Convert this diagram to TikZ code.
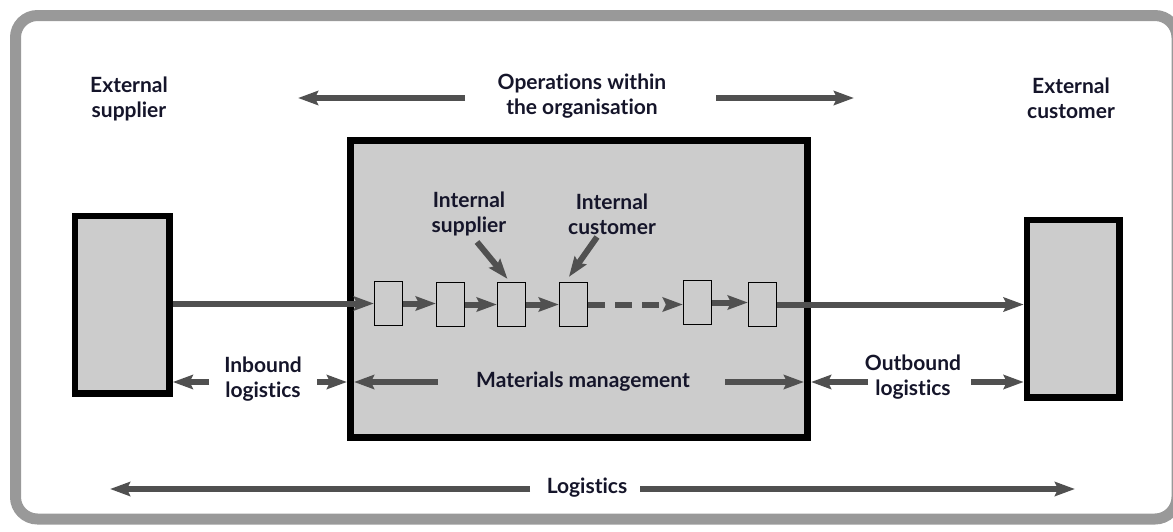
\documentclass[tikz,border=0pt]{standalone}
\usepackage{fontspec}
\setmainfont{Lato}[Ligatures=NoCommon]
\usetikzlibrary{arrows.meta,calc}
\definecolor{arrgray}{HTML}{505050}
\definecolor{boxgray}{HTML}{CCCCCC}
\definecolor{framegray}{HTML}{999999}
\definecolor{txt}{HTML}{15152A}
\begin{document}
\begin{tikzpicture}[x=1pt,y=-1pt,
  lbl/.style={font=\fontsize{21}{25}\selectfont\bfseries, text=txt, align=center, inner sep=0pt},
  bigbox/.style={draw=black, fill=boxgray, line width=6.5pt, inner sep=0pt},
  smallbox/.style={draw=black, fill=boxgray, line width=1.2pt, minimum width=28pt, minimum height=44pt, inner sep=0pt},
  arr/.style={draw=arrgray, line width=6pt, -{Stealth[length=20pt,width=14pt,inset=3pt]}},
]
\useasboundingbox (0,0) rectangle (1173,531);
\begin{scope}
\clip (0,0) rectangle (1173,531);
\draw[framegray, line width=11pt, rounded corners=22pt] (15.5,15.5) rectangle (1177,519);
\end{scope}

% big boxes
\node[bigbox, minimum width=94.5pt, minimum height=177.5pt] (sup) at (122.25,304.75) {};
\node[bigbox, line width=7pt, minimum width=457pt, minimum height=297.5pt] (main) at (579,288.75) {};
\node[bigbox, minimum width=92.5pt, minimum height=177.5pt] (cus) at (1073.25,308.75) {};

% small boxes
\node[smallbox] (b1) at (388.5,303.5) {};
\node[smallbox] (b2) at (450.5,304.5) {};
\node[smallbox] (b3) at (511.5,304.5) {};
\node[smallbox] (b4) at (573.5,304.5) {};
\node[smallbox] (b5) at (697.5,302.5) {};
\node[smallbox] (b6) at (762.5,304.5) {};

% labels
\node[lbl] (extsup) at (129,98.5) {External\\supplier};
\node[lbl] (extcus) at (1071,98.5) {External\\customer};
\node[lbl] (ops) at (582,96) {Operations within\\the organisation};
\node[lbl] (intsup) at (469,214) {Internal\\supplier};
\node[lbl] (intcus) at (612,214) {Internal\\customer};
\node[lbl] (inb) at (263,379.5) {Inbound\\logistics};
\node[lbl] (mm) at (583,382) {Materials management};
\node[lbl] (outb) at (913,377.5) {Outbound\\logistics};
\node[lbl] (logi) at (587,488) {Logistics};

% free ends
\coordinate (opsLt) at (465,98);
\coordinate (opsLh) at (298,98);
\coordinate (opsRt) at (716,98);
\coordinate (opsRh) at (854,98);
\coordinate (isT) at (477,242);
\coordinate (icT) at (597,237);
\coordinate (inLt) at (209,382);
\coordinate (inRt) at (317,382);
\coordinate (mmLt) at (438,382);
\coordinate (mmRt) at (725,382);
\coordinate (outLt) at (868,382);
\coordinate (outRt) at (971,382);
\coordinate (lgLt) at (530,489);
\coordinate (lgLh) at (110,489);
\coordinate (lgRt) at (640,489);
\coordinate (lgRh) at (1075,489);

% arrows
\draw[arr] (opsLt) -- (opsLh);
\draw[arr] (opsRt) -- (opsRh);

\draw[arr] (sup.east |- b1.west) -- (b1.west);
\draw[arr] (b1.east) -- (b2.west |- b1.east);
\draw[arr] (b2.east) -- (b3.west |- b2.east);
\draw[arr] (b3.east) -- (b4.west |- b3.east);
\draw[arr, dash pattern=on 17pt off 10pt] (b4.east) -- (b5.west |- b4.east);
\draw[arr] (b5.east) -- (b6.west |- b5.east);
\draw[arr] (b6.east) -- (cus.west |- b6.east);

\draw[arr] (isT) -- ($(b3.north)+(-4,-3)$);
\draw[arr] (icT) -- ($(b4.north west)+(10,-5)$);

\draw[arr] (inLt) -- (sup.east |- inLt);
\draw[arr] (inRt) -- (main.west |- inRt);
\draw[arr] (mmLt) -- ($(main.west |- mmLt)+(7,0)$);
\draw[arr] (mmRt) -- ($(main.east |- mmRt)+(-7,0)$);
\draw[arr] (outLt) -- (main.east |- outLt);
\draw[arr] (outRt) -- (cus.west |- outRt);

\draw[arr] (lgLt) -- (lgLh);
\draw[arr] (lgRt) -- (lgRh);
\end{tikzpicture}
\end{document}
